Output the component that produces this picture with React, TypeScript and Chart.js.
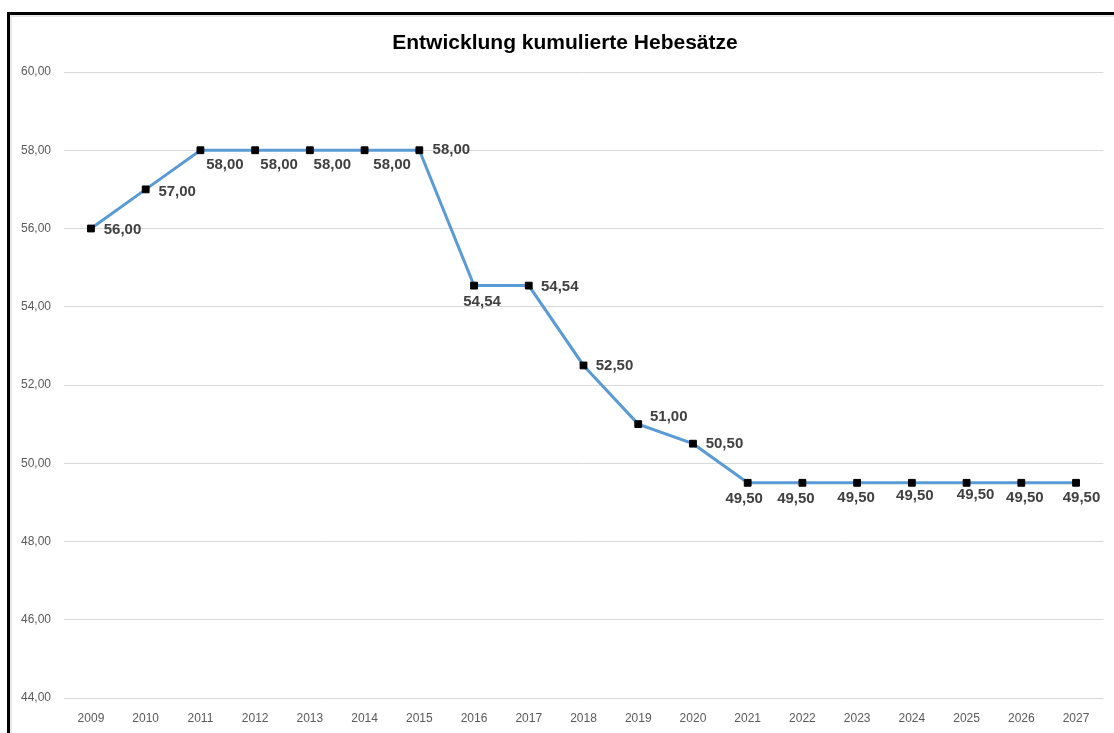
import React, { useEffect, useRef } from "react";
import { Chart, registerables } from "chart.js";

Chart.register(...registerables);

const years = ["2009","2010","2011","2012","2013","2014","2015","2016","2017","2018","2019","2020","2021","2022","2023","2024","2025","2026","2027"];
const hebesaetze = [56, 57, 58, 58, 58, 58, 58, 54.54, 54.54, 52.5, 51, 50.5, 49.5, 49.5, 49.5, 49.5, 49.5, 49.5, 49.5];
const yMin = 44;
const yMax = 60;
const yStep = 2;
const titleText = "Entwicklung kumulierte Hebesätze";

// label placement (style, not data)
const labelDx = [31.5, 31.5, 24.5, 24, 22.5, 27.5, 32, 8, 31, 31, 30.5, 31.5, -3.5, -6.5, -1, 3, 9, 3.5, 5.5];
const labelDy = [1, 2, 15, 15, 15, 15, 0, 16, 1, 0, -7, 0, 16, 16, 15, 13, 12, 15, 15];

const fmt = (v: number) => v.toFixed(2).replace(".", ",");

export default function App() {
  const ref = useRef<HTMLCanvasElement>(null);
  useEffect(() => {
    if (!ref.current) return;
    const labelPlugin = {
      id: "labels",
      afterDatasetsDraw(chart: any) {
        const ctx = chart.ctx;
        const meta = chart.getDatasetMeta(0);
        ctx.save();
        ctx.font = "bold 15px 'Liberation Sans', Arial, sans-serif";
        ctx.fillStyle = "#404040";
        ctx.textAlign = "center";
        ctx.textBaseline = "middle";
        meta.data.forEach((pt: any, i: number) => {
          ctx.fillText(fmt(hebesaetze[i]), pt.x + labelDx[i], pt.y + labelDy[i]);
        });
        ctx.restore();
      },
    };
    const titlePlugin = {
      id: "customTitle",
      afterDraw(chart: any) {
        const ctx = chart.ctx;
        ctx.save();
        ctx.font = "bold 21px 'Liberation Sans', Arial, sans-serif";
        ctx.fillStyle = "#000000";
        ctx.textAlign = "center";
        ctx.textBaseline = "middle";
        ctx.fillText(titleText, 565, 43);
        ctx.restore();
      },
    };
    const chart = new Chart(ref.current, {
      type: "line",
      data: {
        labels: years,
        datasets: [
          {
            data: hebesaetze,
            borderColor: "#5B9BD5",
            borderWidth: 3,
            tension: 0,
            pointStyle: "rect",
            pointRadius: 4.8,
            pointBackgroundColor: "#000000",
            pointBorderColor: "#000000",
            pointBorderWidth: 1,
          },
        ],
      },
      options: {
        responsive: false,
        animation: false,
        layout: { padding: { left: 0, right: 26.6, top: 72, bottom: 0 } },
        plugins: { legend: { display: false }, title: { display: false }, tooltip: { enabled: false } },
        scales: {
          x: {
            offset: true,
            grid: { display: false, drawTicks: false },
            border: { display: false },
            ticks: {
              padding: 13,
              color: "#595959",
              font: { family: "'Liberation Sans', Arial, sans-serif", size: 12 },
              maxRotation: 0,
              autoSkip: false,
            },
            afterFit(scale: any) {
              scale.height = 35;
            },
          },
          y: {
            min: yMin,
            max: yMax,
            grid: { color: "#d9d9d9", drawTicks: false, lineWidth: 1 },
            border: { display: false },
            ticks: {
              stepSize: yStep,
              padding: 12.6,
              color: "#595959",
              font: { family: "'Liberation Sans', Arial, sans-serif", size: 12 },
              callback: (v: any) => fmt(Number(v)),
            },
            afterFit(scale: any) {
              scale.width = 63.6;
            },
          },
        },
      },
      plugins: [labelPlugin, titlePlugin],
    });
    return () => chart.destroy();
  }, []);
  return (
    <div style={{ position: "fixed", left: 0, top: 0, width: 1114, height: 733, overflow: "hidden", background: "#ffffff" }}>
      <div style={{ position: "absolute", left: 10, top: 15, width: 1200, height: 800, borderLeft: "2px solid #e8e8e8", borderTop: "2px solid #e8e8e8" }} />
      <div style={{ position: "absolute", left: 7, top: 12, width: 1200, height: 800, borderLeft: "3px solid #000", borderTop: "3px solid #000" }} />
      <canvas ref={ref} width={1130} height={733} style={{ position: "absolute", left: 0, top: 0 }} />
    </div>
  );
}
